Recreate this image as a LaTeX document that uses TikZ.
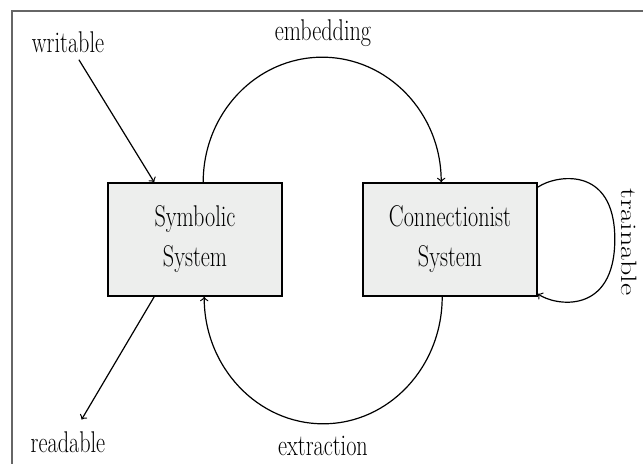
\documentclass[tikz,border=0pt]{standalone}
\usetikzlibrary{calc}
\definecolor{boxgray}{HTML}{EDEEED}
\definecolor{framegray}{HTML}{666666}
\newcommand\hsq[1]{\scalebox{0.74}[1]{#1}}
\begin{document}
\begin{tikzpicture}[x=0.5pt,y=-0.5pt,
  sysbox/.style={draw=black, line width=0.8pt, fill=boxgray, minimum width=87pt,
    minimum height=56.5pt, align=center, font=\fontsize{15}{20}\selectfont, inner sep=0pt},
  lbl/.style={font=\fontsize{15}{18}\selectfont, inner sep=0pt},
  conn/.style={->, line width=0.6pt}]
\useasboundingbox (0,0) rectangle (643,464);
\fill[white] (0,0) rectangle (643,464);
\draw[framegray, line width=0.6pt] (12,464) -- (12,11) -- (643,11);

\node[sysbox] (sym) at (195,239.5) {\hsq{Symbolic}\\\hsq{System}};
\node[sysbox] (con) at (450,239.5) {\hsq{Connectionist}\\\hsq{System}};

\node[lbl] (wr) at (68,42) {\hsq{writable}};
\node[lbl] (rd) at (68,442.5) {\hsq{readable}};
\node[lbl] (emb) at (323,33) {\hsq{embedding}};
\node[lbl] (ext) at (323,446) {\hsq{extraction}};
\node[lbl, rotate=-90] (tr) at (629,242) {\scalebox{1}[0.74]{trainable}};

\draw[conn, shorten <=4pt] (wr) -- ($(sym.north west)+(47,0)$);
\draw[conn, shorten >=7pt] ($(sym.south west)+(47,0)$) -- (rd);

\draw[conn] ($(sym.north west)+(96,0)$) arc[start angle=180, end angle=360, x radius=119, y radius=125];
\draw[conn] ($(con.south west)+(80,0)$) arc[start angle=0, end angle=180, x radius=119, y radius=127];

\coordinate (t1) at ($(con.north east)+(0,5)$);
\coordinate (t2) at ($(con.south east)+(0,-3)$);
\draw[conn] (t1) .. controls ($(t1)+(17,-12)$) and ($(t1)+(77,-23)$) .. ($(t1)+(77,52)$)
  .. controls ($(t2)+(77,22)$) and ($(t2)+(17,12)$) .. (t2);
\end{tikzpicture}
\end{document}
